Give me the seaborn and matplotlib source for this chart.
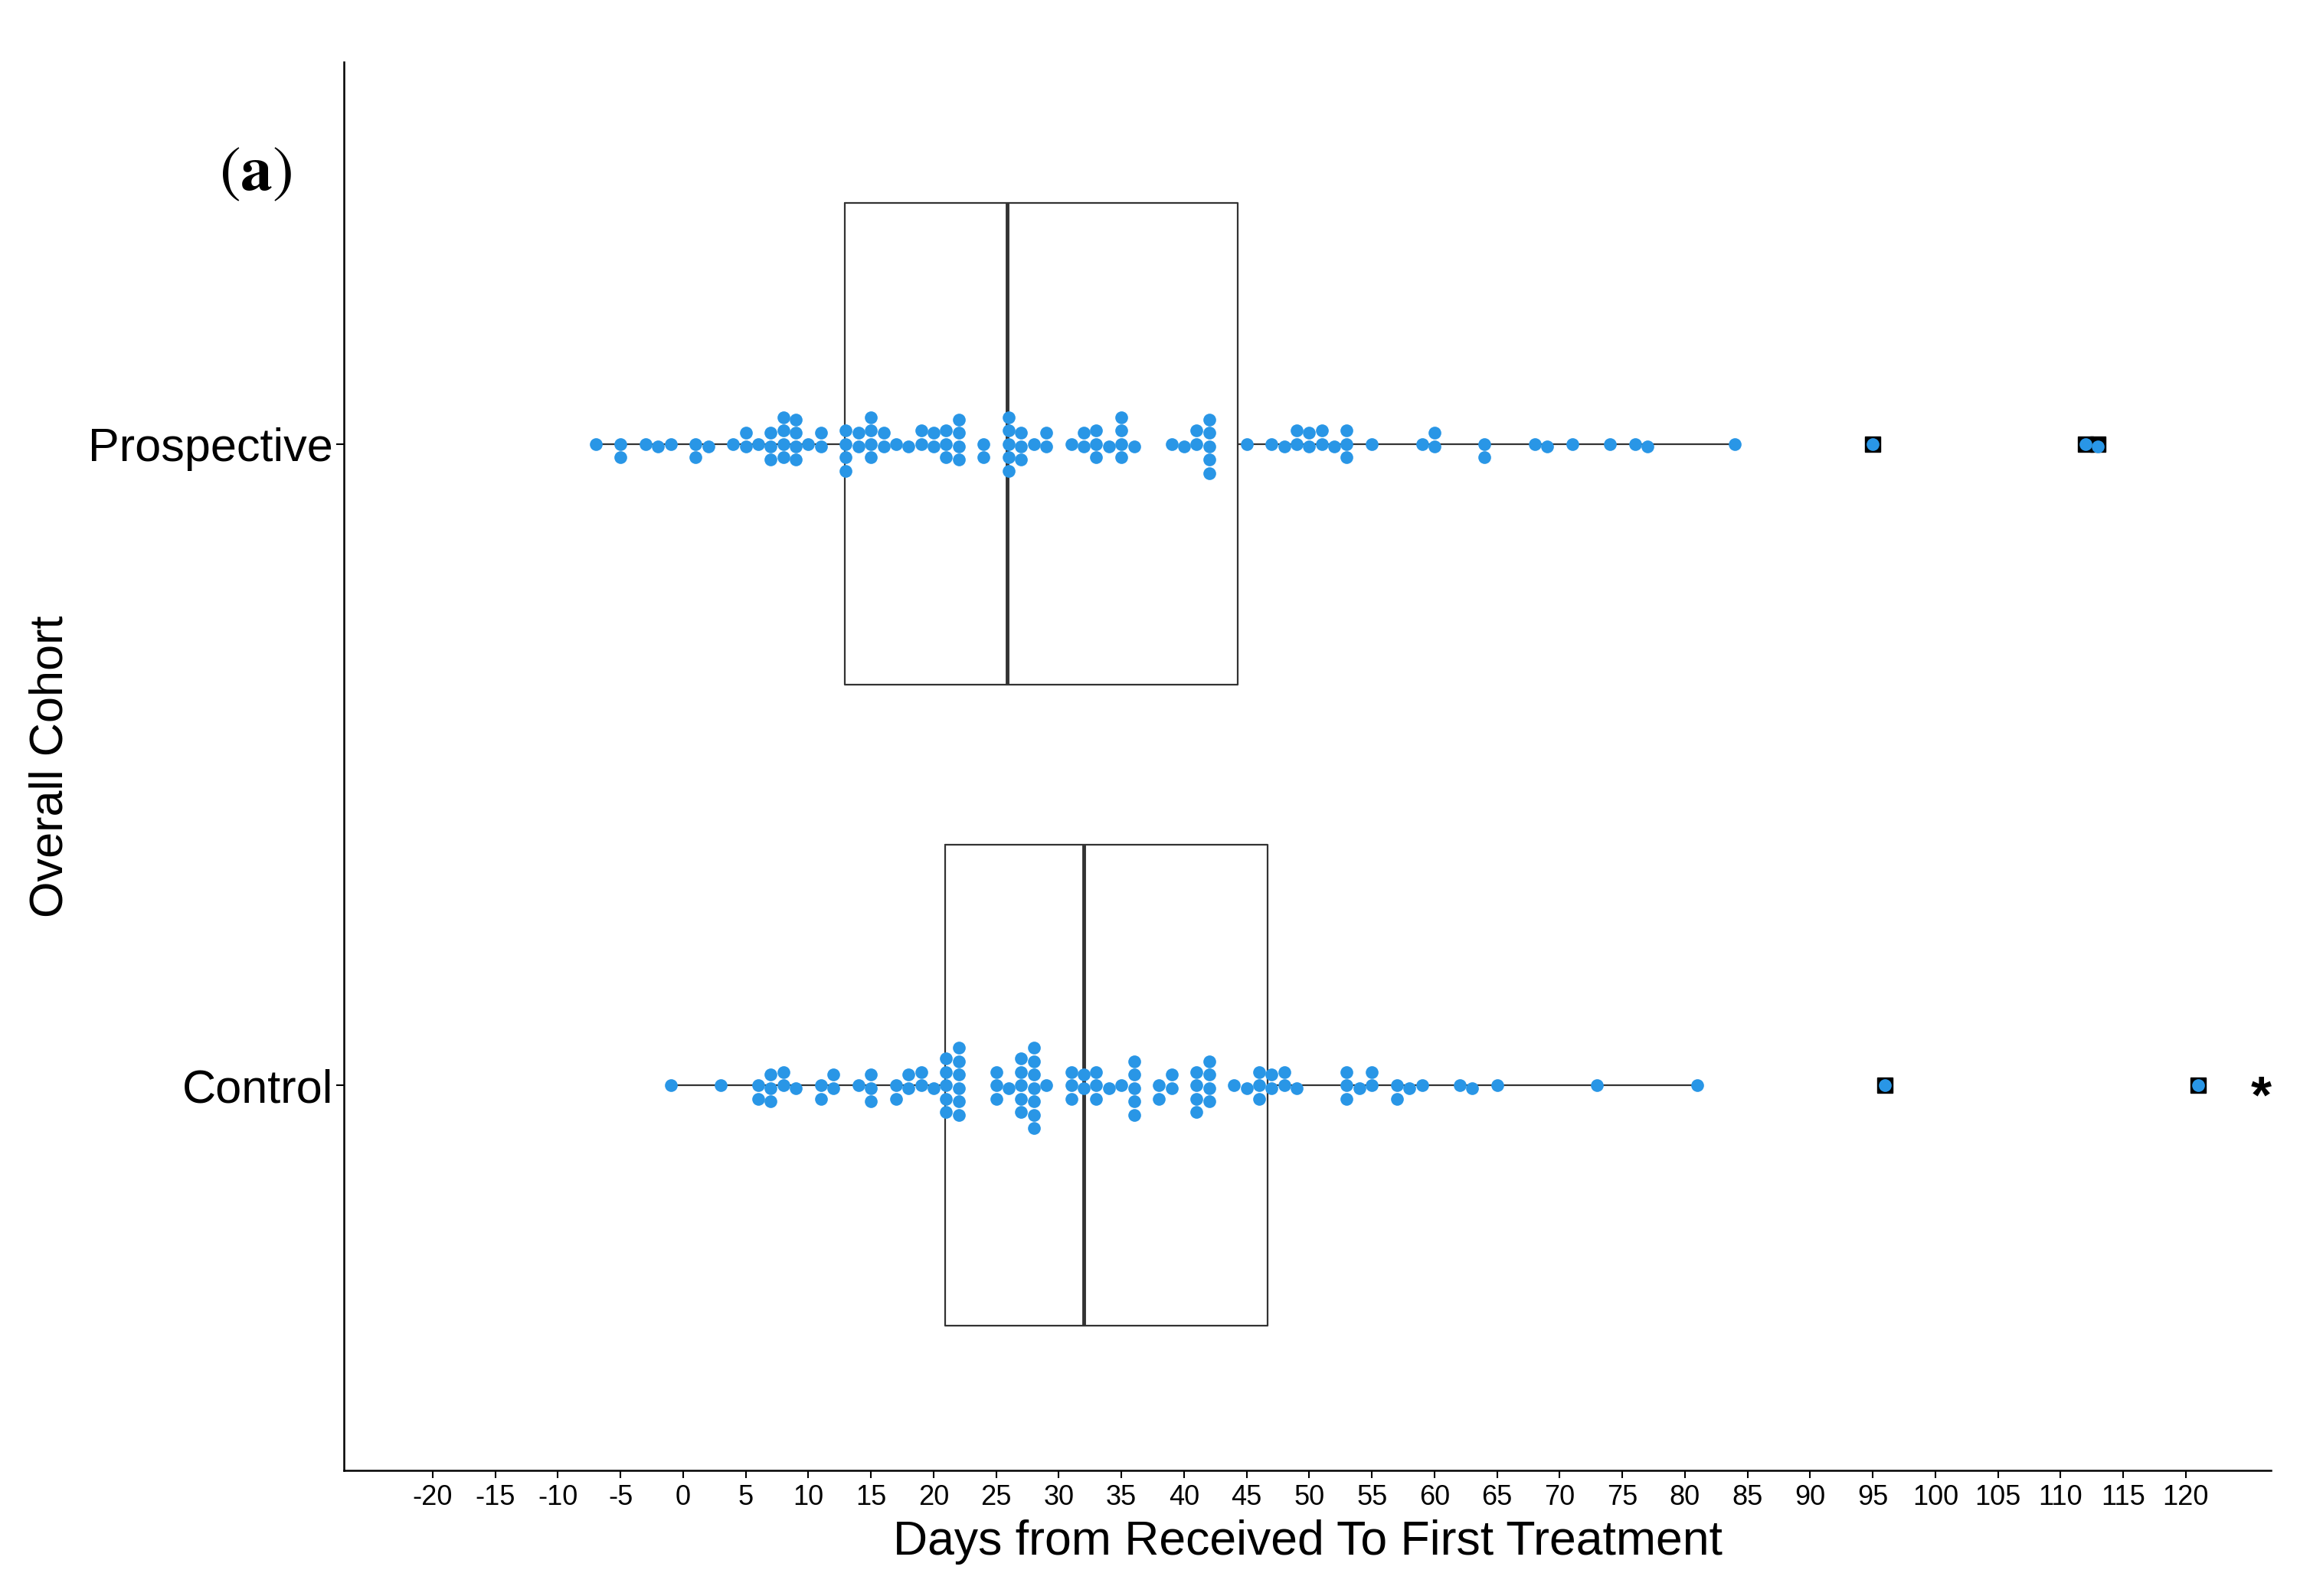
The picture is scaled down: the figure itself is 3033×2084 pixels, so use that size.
import numpy as np
import pandas as pd
import matplotlib
matplotlib.use("Agg")
import matplotlib.pyplot as plt
import seaborn as sns

# days from received to first treatment
prospective_days = [-7, -5, -5, -3, -2, -1, 1, 1, 2, 4, 5, 5, 6, 7, 7, 7,
                    8, 8, 8, 8, 9, 9, 9, 9, 10, 11, 11, 13, 13, 13, 13, 14, 14,
                    15, 15, 15, 15, 16, 16, 17, 18, 19, 19, 20, 20, 21, 21, 21,
                    22, 22, 22, 22, 24, 24, 26, 26, 26, 26, 26, 27, 27, 27, 28,
                    29, 29, 31, 32, 32, 33, 33, 33, 34, 35, 35, 35, 35, 36, 39,
                    40, 41, 41, 42, 42, 42, 42, 42, 45, 47, 48, 49, 49, 50, 50,
                    51, 51, 52, 53, 53, 53, 55, 59, 60, 60, 64, 64, 68, 69, 71,
                    74, 76, 77, 84, 95, 112, 113]
control_days = [-1, 3, 6, 6, 7, 7, 7, 8, 8, 9, 11, 11, 12, 12, 14, 15, 15, 15,
                17, 17, 18, 18, 19, 19, 20, 21, 21, 21, 21, 21, 22, 22, 22, 22,
                22, 22, 25, 25, 25, 26, 27, 27, 27, 27, 27, 28, 28, 28, 28, 28,
                28, 28, 29, 31, 31, 31, 32, 32, 33, 33, 33, 34, 35, 36, 36, 36,
                36, 36, 38, 38, 39, 39, 41, 41, 41, 41, 42, 42, 42, 42, 44, 45,
                46, 46, 46, 47, 47, 48, 48, 49, 53, 53, 53, 54, 55, 55, 57, 57,
                58, 59, 62, 63, 65, 73, 81, 96, 121]

cohorts = ["Prospective", "Control"]

# box summary as drawn in the figure
box_q1 = [12.9, 20.9]
box_median = [25.9, 32.0]
box_q3 = [44.3, 46.7]
whisker_low = [-7, -1]
whisker_high = [84, 81]

x_ticks = list(range(-20, 121, 5))

dot_color = "#2996e6"
line_color = "#333333"

df = pd.DataFrame({
    "days": prospective_days + control_days,
    "cohort": ["Prospective"] * len(prospective_days) + ["Control"] * len(control_days),
})

sns.set_theme(style="white")
plt.rcParams["font.family"] = ["Liberation Sans", "DejaVu Sans"]
plt.rcParams["text.color"] = "black"
plt.rcParams["axes.labelcolor"] = "black"
plt.rcParams["xtick.color"] = "black"
plt.rcParams["ytick.color"] = "black"

fig = plt.figure(figsize=(30.33, 20.84), dpi=100)
ax = fig.add_axes([0.148, 0.0787, 0.8296, 0.8824])

# boxes first, dots on top
stats = []
all_days = [prospective_days, control_days]
for i in range(len(cohorts)):
    stats.append({
        "q1": box_q1[i], "med": box_median[i], "q3": box_q3[i],
        "whislo": whisker_low[i], "whishi": whisker_high[i],
        "fliers": [d for d in all_days[i] if d > whisker_high[i] or d < whisker_low[i]],
    })
ax.bxp(stats, positions=[0, 1], widths=0.75, orientation="horizontal",
       showcaps=False, manage_ticks=False,
       boxprops=dict(color=line_color, linewidth=1.6),
       whiskerprops=dict(color=line_color, linewidth=1.6),
       medianprops=dict(color=line_color, linewidth=3.5),
       flierprops=dict(marker="s", markerfacecolor="black", markeredgecolor="black",
                       markersize=15))

sns.swarmplot(data=df, x="days", y="cohort", order=cohorts, color=dot_color,
              size=12, linewidth=0, ax=ax, zorder=3)

ax.set_xlim(-27.1, 126.8)
ax.set_ylim(1.6, -0.595)
ax.set_xticks(x_ticks)
ax.set_xticklabels([str(t) for t in x_ticks])
ax.tick_params(axis="x", labelsize=26, length=7, width=1.5, color="black", pad=6,
               bottom=True)
ax.tick_params(axis="y", labelsize=44, length=7, width=1.5, color="black", pad=3,
               left=True)

ax.set_xlabel("Days from Received To First Treatment", fontsize=45, labelpad=8)
ax.set_ylabel("Overall Cohort", fontsize=44)
ax.yaxis.set_label_coords(-0.141, 0.5)

for side in ["top", "right"]:
    ax.spines[side].set_visible(False)
for side in ["left", "bottom"]:
    ax.spines[side].set_color("black")
    ax.spines[side].set_linewidth(1.8)

ax.text(126.0, 1.02, "*", fontsize=50, fontweight="bold", ha="center", va="center",
        clip_on=False)
fig.text(0.110, 0.8916, r"$(\mathbf{a})$", fontsize=60, math_fontfamily="stix",
         ha="center", va="center")

fig.savefig("out.png", dpi=100)
